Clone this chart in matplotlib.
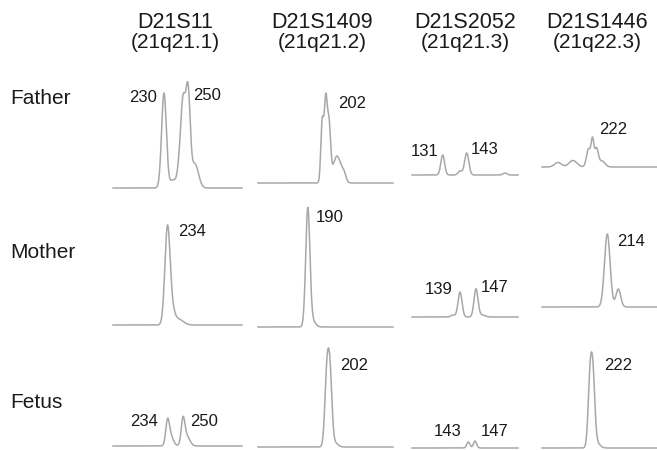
import numpy as np
import matplotlib
matplotlib.use("Agg")
import matplotlib.pyplot as plt

plt.rcParams['font.family'] = ['Liberation Sans', 'DejaVu Sans']

W, H = 657, 450

markers = ['D21S11', 'D21S1409', 'D21S2052', 'D21S1446']
bands = ['(21q21.1)', '(21q21.2)', '(21q21.3)', '(21q22.3)']
members = ['Father', 'Mother', 'Fetus']

# peaks per panel: (position, height, width) in scan units / RFU
father_peaks = [
    [(164, 95, 2.4), (173, 8, 3), (179, 16, 2.0), (183, 84, 2.3), (188, 94, 2.2), (195, 24, 3.5)],
    [(322.2, 60, 1.4), (325.7, 80, 1.5), (329, 55, 1.6), (337, 27, 4.0), (344, 7, 2.0)],
    [(442.7, 20, 1.9), (460, 4, 2), (466.7, 22, 2.1), (505, 2, 2)],
    [(558, 4.5, 3.5), (573, 6.5, 4), (588.5, 18, 2.0), (592.5, 26, 1.4), (596.5, 18, 1.8), (602, 6, 3)],
]
mother_peaks = [
    [(167.5, 98, 2.6), (172.5, 10, 2.5), (178, 6, 5)],
    [(307.8, 118, 2.1), (312.5, 6, 3)],
    [(453, 2, 2), (460, 25, 2.0), (476, 28, 2.0), (482, 2, 3)],
    [(607.3, 73, 2.8), (618.3, 18, 2.4)],
]
fetus_peaks = [
    [(167.5, 22, 1.8), (170.5, 10, 2.8), (183, 24, 1.8), (186.5, 10, 3.2)],
    [(326.8, 68, 2.0), (330, 68, 2.0), (335, 4, 3)],
    [(468.3, 6, 1.6), (475, 7, 1.6)],
    [(590, 65, 1.9), (593, 65, 1.9), (597, 5, 3)],
]

# allele labels per panel: (text, position, height)
father_labels = [[('230', 143, 91), ('250', 207, 92)], [('202', 352, 80)],
                 [('131', 425, 23), ('143', 485, 25)], [('222', 613, 37)]]
mother_labels = [[('234', 192, 93)], [('190', 330, 109)],
                 [('139', 439, 27), ('147', 495, 29)], [('214', 631, 65)]]
fetus_labels = [[('234', 144, 24), ('250', 204, 24)], [('202', 354, 82)],
                [('143', 448, 16), ('147', 495, 16)], [('222', 618, 83)]]

# layout (pixels)
col_x = [(113, 242), (258, 393), (412, 518), (542, 657)]
baselines = [[188, 183, 175, 167], [325, 327, 317, 307], [446, 447, 448, 448]]
header_x = [175, 322, 465, 597]
row_label_y = [98, 252, 403]

peaks_rows = [father_peaks, mother_peaks, fetus_peaks]
labels_rows = [father_labels, mother_labels, fetus_labels]

fig = plt.figure(figsize=(W / 100, H / 100), dpi=100)
fig.patch.set_facecolor('white')

ytop, ybot = 130, 4
for r in range(3):
    for c in range(4):
        x0, x1 = col_x[c]
        base = baselines[r][c]
        ax = fig.add_axes([x0 / W, (H - base - ybot) / H, (x1 - x0) / W, (ytop + ybot) / H])
        ax.set_xlim(x0, x1)
        ax.set_ylim(-ybot, ytop)
        ax.axis('off')
        xs = np.linspace(x0, x1, 600)
        ys = np.zeros_like(xs)
        for pos, h, w in peaks_rows[r][c]:
            ys += h * np.exp(-(xs - pos) ** 2 / (2 * w ** 2))
        ax.plot(xs, ys, color='#a8a8a8', lw=1.1, clip_on=False)
        for txt, lx, ly in labels_rows[r][c]:
            ax.text(lx, ly, txt, fontsize=12, ha='center', va='center',
                    color='#1a1a1a', clip_on=False)

for c in range(4):
    fig.text(header_x[c] / W, 1 - 22 / H, markers[c], fontsize=15.5,
             ha='center', va='center', color='#1a1a1a')
    fig.text(header_x[c] / W, 1 - 43 / H, bands[c], fontsize=15,
             ha='center', va='center', color='#1a1a1a')

for r in range(3):
    fig.text(10 / W, 1 - row_label_y[r] / H, members[r], fontsize=15,
             ha='left', va='center', color='#1a1a1a')

fig.savefig('out.png', dpi=100, facecolor='white')
